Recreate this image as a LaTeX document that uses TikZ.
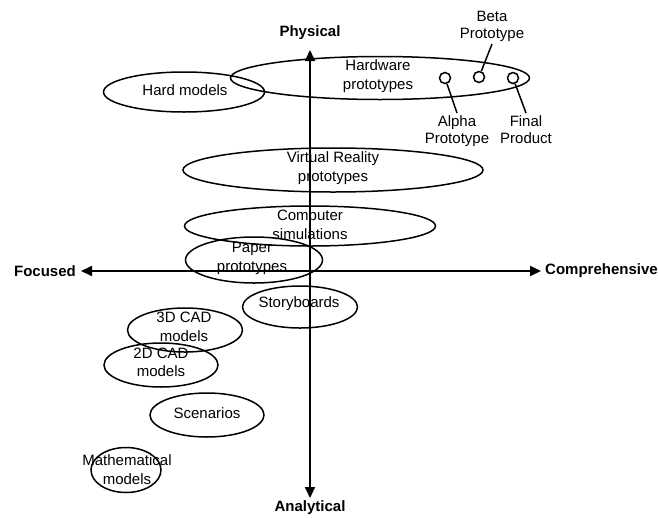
\documentclass[tikz,border=0pt]{standalone}
\usepackage{fontspec}
\setmainfont{Liberation Sans}
\usetikzlibrary{shapes.geometric,arrows.meta}
\begin{document}
\begin{tikzpicture}[x=1pt,y=-1pt,
  oval/.style={draw,ellipse,line width=1.5pt,inner sep=0pt},
  txt/.style={align=center,inner sep=0pt,font=\fontsize{15}{18.5}\selectfont},
  axislbl/.style={inner sep=0pt,font=\fontsize{15}{18.5}\selectfont\bfseries},
  axis/.style={line width=1.8pt,{Triangle[length=11pt,width=10pt]}-{Triangle[length=11pt,width=10pt]}},
  dot/.style={draw,circle,line width=1.5pt,minimum size=11pt,inner sep=0pt},
  lead/.style={line width=1.5pt},
  lbl/.style={align=center,inner sep=2pt,font=\fontsize{15}{17.5}\selectfont}]
\useasboundingbox (0,0) rectangle (658,517);

% axes
\coordinate (ytop) at (310,50);
\coordinate (ybot) at (310,498);
\coordinate (xleft) at (81,271);
\coordinate (xright) at (541,271);
\draw[axis] (ybot) -- (ytop);
\draw[axis] (xleft) -- (xright);
\node[axislbl] (phys) at (310,33) {Physical};
\node[axislbl] (anal) at (310,508) {Analytical};
\node[axislbl,anchor=east] (foc) at (76,271) {Focused};
\node[axislbl,anchor=west] (comp) at (545,271) {Comprehensive};

% prototype ellipses
\node[oval,minimum width=161pt,minimum height=40pt] (hard) at (184,92) {};
\node[txt] at (185,90) {Hard models};
\node[oval,minimum width=299pt,minimum height=43pt] (hw) at (380,78) {};
\node[txt] at (378,76) {Hardware\\prototypes};
\node[oval,minimum width=300pt,minimum height=44pt] (vr) at (333,170) {};
\node[txt] at (333,168) {Virtual Reality\\prototypes};
\node[oval,minimum width=251pt,minimum height=40pt] (sim) at (310,226) {};
\node[txt] at (310,225) {Computer\\simulations};
\node[oval,minimum width=137pt,minimum height=46pt] (paper) at (254,260) {};
\node[txt] at (252,258.5) {Paper\\prototypes};
\node[oval,minimum width=115pt,minimum height=42pt] (story) at (300,307) {};
\node[txt] at (299,304) {Storyboards};
\node[oval,minimum width=115pt,minimum height=44pt] (cad3) at (185,330) {};
\node[txt] at (184,327) {3D CAD\\models};
\node[oval,minimum width=114pt,minimum height=44pt] (cad2) at (161,365) {};
\node[txt] at (161,362.5) {2D CAD\\models};
\node[oval,minimum width=114pt,minimum height=44pt] (scen) at (207,415) {};
\node[txt] at (207,413) {Scenarios};
\node[oval,minimum width=70pt,minimum height=45pt] (math) at (126,470) {};
\node[txt] at (127,469.5) {Mathematical\\models};

% hardware milestones
\node[dot] (alpha) at (445,78) {};
\node[dot] (beta) at (479,77) {};
\node[dot] (final) at (513,78) {};
\node[lbl,anchor=south] (betalbl) at (492,44) {Beta\\Prototype};
\node[lbl,anchor=north] (alphalbl) at (457,113) {Alpha\\Prototype};
\node[lbl,anchor=north] (finallbl) at (526,113) {Final\\Product};
\draw[lead] (beta) -- (betalbl.south);
\draw[lead] (alpha) -- (alphalbl.north);
\draw[lead] (final) -- (finallbl.north);
\end{tikzpicture}
\end{document}
